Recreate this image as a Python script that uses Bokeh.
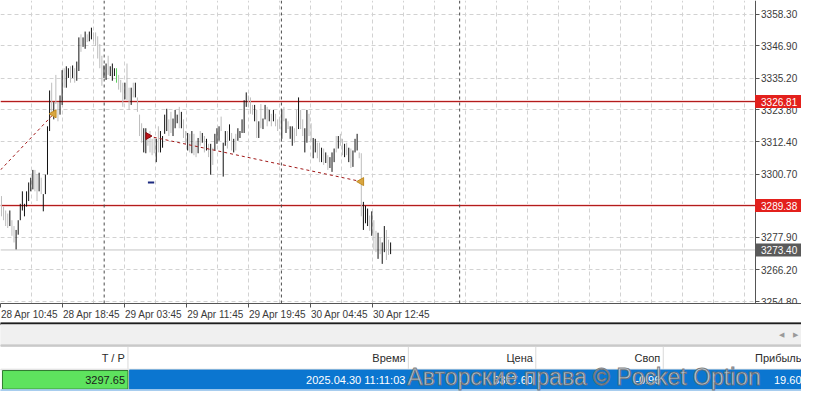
import numpy as np
from bokeh.plotting import figure
from bokeh.models import (Range1d, FixedTicker, PrintfTickFormatter, Span,
                          ColumnDataSource, LinearAxis)
from bokeh.layouts import column
from bokeh.embed import file_html
from bokeh.resources import INLINE
from bokeh.core.properties import value

# ---------------- data (XAUUSD-like M15 bars) ----------------
high_a = [3292.8, 3289.0, 3287.6, 3286.5, 3287.6, 3284.1, 3282.0, 3280.6, 3284.1, 3290.0,
          3294.5, 3290.0, 3294.5, 3297.7, 3299.4, 3302.2, 3302.2, 3300.5, 3301.2, 3299.4,
          3293.5, 3300.5, 3317.9, 3330.8, 3333.6, 3326.6, 3336.4, 3326.6, 3329.0, 3338.1,
          3338.8, 3339.5, 3338.8, 3339.5, 3339.8, 3338.8, 3341.2, 3349.9, 3351.0, 3349.9,
          3352.0, 3351.0, 3352.0, 3353.4, 3351.7, 3351.7, 3350.3]
low_a = [3285.5, 3284.1, 3282.0, 3281.3, 3282.0, 3278.5, 3276.1, 3273.6, 3278.9, 3284.1,
         3287.6, 3285.5, 3289.0, 3291.0, 3294.5, 3295.2, 3294.5, 3291.0, 3294.5, 3293.5,
         3287.3, 3293.5, 3300.5, 3316.2, 3322.4, 3320.4, 3325.9, 3319.7, 3322.1, 3325.6,
         3331.8, 3331.8, 3335.3, 3333.6, 3335.3, 3333.6, 3334.3, 3337.8, 3344.7, 3346.5,
         3345.8, 3348.2, 3348.5, 3349.2, 3348.5, 3346.8, 3342.3]
kind_a = "gggg" "b" "gg" "bbbbbbbbb" "gg" "b" "g" "bbbb" "g" "b" "gg" "bb" "g" "bb" "g" "b" "g" "bb" "g" "bb" "g" "bb" "ggg"

high_b = [3347.5, 3343.3, 3339.8, 3340.5, 3343.3, 3339.5, 3340.5, 3338.8, 3338.8, 3336.4,
          3334.6, 3333.6, 3333.6, 3340.5, 3331.8, 3331.8, 3333.6, 3333.6, 3328.3, 3322.1,
          3319.0, 3317.2, 3317.2, 3315.2, 3316.2, 3313.4, 3313.7, 3313.4, 3317.9, 3316.2,
          3314.4, 3322.1, 3324.2, 3320.4, 3323.1, 3320.7, 3323.8, 3322.1, 3324.9, 3323.1,
          3320.4, 3316.2, 3315.5, 3315.2, 3316.2, 3315.2]
low_b = [3338.8, 3332.5, 3335.3, 3334.6, 3336.4, 3336.0, 3334.3, 3336.0, 3333.6, 3331.1,
         3330.1, 3324.9, 3327.6, 3327.3, 3323.8, 3325.6, 3328.3, 3328.3, 3323.1, 3314.4,
         3312.0, 3308.5, 3308.2, 3310.9, 3308.5, 3307.5, 3308.2, 3305.0, 3308.5, 3308.5,
         3310.2, 3315.2, 3316.2, 3314.4, 3315.5, 3314.4, 3317.2, 3319.0, 3317.2, 3317.2,
         3313.7, 3311.6, 3309.2, 3308.5, 3308.2, 3307.5]
kind_b = "gg" "bb" "g" "bbb" "L" "ggg" "b" "gg" "b" "g" "b" "ggg" "bb" "gggg" "b" "g" "bbbb" "gg" "bbb" "g" "b" "gg" "b" "g" "b" "g"

high_c = [3312.7, 3313.7, 3316.2, 3315.5, 3314.4, 3313.4, 3311.6, 3311.6, 3310.2, 3315.2,
          3317.2, 3317.9, 3321.4, 3312.0, 3316.2, 3316.2, 3318.6, 3315.5, 3313.4, 3315.2,
          3317.2, 3316.2, 3320.4, 3327.3, 3330.1, 3329.0, 3328.3, 3325.6, 3325.6, 3323.8,
          3319.7, 3325.9, 3320.7, 3325.6, 3324.9, 3323.8, 3322.4, 3323.8, 3322.4, 3320.4,
          3321.4, 3323.8, 3324.9, 3320.7, 3319.7, 3317.9, 3317.9, 3317.2, 3323.8, 3328.3,
          3323.8, 3320.4, 3317.2, 3323.8, 3322.4, 3319.0, 3313.7, 3313.4, 3312.0, 3312.0,
          3310.2, 3309.9, 3308.5, 3307.5, 3306.8, 3308.5, 3309.9, 3314.4, 3314.4, 3315.2,
          3313.4, 3311.6, 3312.0, 3310.2, 3309.9, 3309.2, 3313.4, 3315.2, 3308.5, 3308.2,
          3290.7, 3289.3, 3288.3, 3285.8, 3287.3, 3284.1, 3280.3, 3279.6, 3277.8, 3276.1,
          3282.0, 3280.6, 3277.1, 3276.1]
low_c = [3306.8, 3308.2, 3310.9, 3312.0, 3308.5, 3309.2, 3306.8, 3300.5, 3304.0, 3309.2,
         3311.6, 3312.7, 3316.2, 3299.8, 3310.9, 3309.9, 3312.7, 3309.2, 3308.5, 3309.2,
         3312.7, 3313.7, 3315.5, 3315.5, 3324.9, 3324.9, 3322.4, 3322.1, 3319.7, 3313.7,
         3313.7, 3317.2, 3316.9, 3320.4, 3317.9, 3319.7, 3317.9, 3319.7, 3317.9, 3316.2,
         3316.9, 3313.4, 3319.7, 3315.5, 3316.9, 3313.4, 3310.9, 3312.0, 3314.4, 3316.9,
         3316.9, 3314.4, 3308.5, 3312.0, 3314.4, 3312.7, 3306.4, 3308.5, 3306.4, 3305.0,
         3305.0, 3304.0, 3304.7, 3302.2, 3302.9, 3301.5, 3305.0, 3308.5, 3309.9, 3310.9,
         3307.5, 3306.8, 3307.5, 3305.0, 3302.9, 3303.3, 3308.5, 3309.2, 3306.4, 3285.5,
         3280.6, 3283.0, 3282.0, 3280.3, 3278.5, 3273.6, 3272.6, 3270.2, 3271.9, 3268.4,
         3272.6, 3269.8, 3271.6, 3271.9]
kind_c = ("gbgbgbgbg" "bbb" "g" "bb" "g" "b" "g" "b" "g" "bbbbb" "ggg" "b" "g" "b" "g" "bb"
          "g" "b" "g" "b" "ggg" "b" "g" "b" "g" "bb" "gg" "b" "gg" "bb" "gg" "bb" "gg" "b" "g"
          "b" "g" "bbb" "g" "b" "gg" "b" "g" "b" "g" "bbb" "gg" "bbb" "g" "b" "gg" "b" "g" "bb"
          "gg" "b")

bar_high = high_a + high_b + high_c
bar_low = low_a + low_b + low_c
bar_kind = list(kind_a + kind_b + kind_c)

time_labels = ["28 Apr 10:45", "28 Apr 18:45", "29 Apr 03:45", "29 Apr 11:45",
               "29 Apr 19:45", "30 Apr 04:45", "30 Apr 12:45"]
time_label_bar = [-0.46, 29.17, 58.8, 88.43, 118.06, 147.69, 177.32]
day_separator_bar = [49.1, 133.8, 219.0]
price_ticks = [3254.80, 3266.20, 3277.90, 3289.30, 3300.70, 3312.40, 3323.80,
               3335.20, 3346.90, 3358.30]
level_prices = [3326.81, 3289.38]
last_price = 3273.40
trade1_bar, trade1_price = [-0.46, 25.0], [3302.2, 3322.4]
trade2_bar, trade2_price = [70.0, 172.0], [3314.4, 3298.0]
tp_price, tp_bars = 3297.65, [70.0, 73.0]
chart_x = (-0.46, 360.2)          # visible bar span of the chart area
view_x_end = 382.4                # chart area + price scale strip
view_y = (3254.13, 3363.18)

table_headers = ["T / P", "Время", "Цена", "Своп", "Прибыль"]
table_row = ["3297.65", "2025.04.30 11:11:03", "3317.60", "-0.96", "19.60"]
watermark = "Авторские права © Pocket Option"

# ---------------- chart ----------------
FONT = "Liberation Sans"
n = min(len(bar_high), len(bar_low), len(bar_kind))
color_map = {"b": "#111111", "g": "#bdbdbd", "L": "#5ccf5c"}
src = ColumnDataSource(dict(x=list(range(n)), hi=bar_high[:n], lo=bar_low[:n],
                            c=[color_map[k] for k in bar_kind[:n]]))

p = figure(width=801, height=322, x_range=Range1d(chart_x[0], view_x_end),
           y_range=Range1d(*view_y),
           output_backend="svg", toolbar_location=None, y_axis_location=None,
           x_axis_location=None,
           min_border_left=0, min_border_top=0, min_border_bottom=0, min_border_right=0,
           background_fill_color="white", border_fill_color="white", outline_line_color=None)

# grids
grid_step = (time_label_bar[1] - time_label_bar[0]) / 2.0
p.ygrid.ticker = FixedTicker(ticks=price_ticks)
p.xgrid.ticker = FixedTicker(ticks=list(np.arange(time_label_bar[0], chart_x[1], grid_step)))
for g in (p.xgrid, p.ygrid):
    g.grid_line_color = "#d2d2d2"
    g.grid_line_dash = "4 3"
    g.grid_line_width = 1

# price-scale strip background (covers the grid on the right)
p.quad(left=[chart_x[1]], right=[view_x_end], bottom=[view_y[0]], top=[view_y[1]],
       fill_color="white", line_color=None)

for d in day_separator_bar:
    p.add_layout(Span(location=d, dimension="height", line_color="#4a4a4a",
                      line_dash="3 3", line_width=1))

# bottom time axis: labels start at their time (MT style) -> label centred half a label to the right,
# time marks drawn as minor ticks
label_shift = 13.9
label_pos = [b + label_shift for b in time_label_bar]
x_axis = LinearAxis(ticker=FixedTicker(ticks=label_pos, minor_ticks=time_label_bar),
                    major_label_overrides={t: l for t, l in zip(label_pos, time_labels)},
                    axis_line_color="#555555", major_tick_line_color=None,
                    minor_tick_line_color="#555555", minor_tick_out=4, minor_tick_in=0,
                    major_tick_out=4, major_label_standoff=1,
                    major_label_text_font=FONT, major_label_text_font_size="10px",
                    major_label_text_color="#3a3a3a")
p.add_layout(x_axis, "below")

# right price axis, drawn at the edge of the chart area
y_axis = LinearAxis(fixed_location=chart_x[1], ticker=FixedTicker(ticks=price_ticks),
                    formatter=PrintfTickFormatter(format="%.2f"),
                    axis_line_color="#555555", major_tick_line_color="#555555",
                    minor_tick_line_color=None, major_tick_out=4, major_tick_in=0,
                    major_label_standoff=2, major_label_text_font=FONT,
                    major_label_text_font_size="10px", major_label_text_color="#3a3a3a")
p.add_layout(y_axis, "right")

# level lines
for lp in level_prices:
    p.segment(x0=[chart_x[0]], y0=[lp], x1=[chart_x[1]], y1=[lp], line_color="#f8dada", line_width=3)
    p.segment(x0=[chart_x[0]], y0=[lp], x1=[chart_x[1]], y1=[lp], line_color="#b01212", line_width=1)
p.segment(x0=[chart_x[0]], y0=[last_price], x1=[chart_x[1]], y1=[last_price],
          line_color="#c4c4c4", line_width=1)

# bars
p.segment(x0="x", y0="lo", x1="x", y1="hi", line_color="c", line_width=1, source=src)

# trades
p.line(trade1_bar, trade1_price, line_color="#a01818", line_dash="3 3", line_width=1)
p.line(trade2_bar, trade2_price, line_color="#a01818", line_dash="3 3", line_width=1)
p.scatter([trade1_bar[1], trade2_bar[1]], [trade1_price[1], trade2_price[1]],
          marker="triangle", angle=np.pi / 2, size=8, fill_color="#d9a640",
          line_color="#c08a20")
p.scatter([trade2_bar[0]], [trade2_price[0]], marker="triangle", angle=-np.pi / 2,
          size=7, fill_color="#c0141a", line_color="#8a0c10")
p.segment(x0=[tp_bars[0]], y0=[tp_price], x1=[tp_bars[1]], y1=[tp_price],
          line_color="#1c2a80", line_width=2)

# price tags on the scale
tag_prices = level_prices + [last_price]
tag_colors = ["#e3201c", "#e3201c", "#5a5a5a"]
p.rect(x=[(chart_x[1] + view_x_end) / 2.0] * 3, y=tag_prices,
       width=view_x_end - chart_x[1], height=13, height_units="screen",
       fill_color=tag_colors, line_color=None, level="overlay")
p.text(x=[chart_x[1]] * 3, y=tag_prices, text=["%.2f" % v for v in tag_prices],
       x_offset=6, text_font=value(FONT), text_font_size="10px", text_color="white",
       text_baseline="middle", text_align="left", level="overlay")

# ---------------- table panel ----------------
t = figure(width=801, height=69, x_range=Range1d(0, 817), y_range=Range1d(407, 333),
           output_backend="svg", toolbar_location=None, min_border=0,
           background_fill_color="white", border_fill_color="white", outline_line_color=None)
t.axis.visible = False
t.grid.visible = False

col_right = [130, 416, 546, 676, 820]

t.quad(left=[0], right=[817], top=[333], bottom=[335.5], color="#1e1e1e")
t.quad(left=[0], right=[817], top=[335.5], bottom=[357], color="#f0f0f0")
t.quad(left=[0], right=[817], top=[357], bottom=[358.5], color="#c9c9c9")
t.text(x=[797, 811], y=[346, 346], text=["◀", "▶"], text_font_size="7px",
       text_color="#9a9a9a", text_align="center", text_baseline="middle")
t.segment(x0=col_right[:4], y0=[359] * 4, x1=col_right[:4], y1=[383] * 4,
          line_color="#d9d9d9", line_width=1)
t.quad(left=[0], right=[817], top=[383], bottom=[384], color="#e4e4e4")
t.text(x=[r - 3 for r in col_right], y=[371] * 5, text=table_headers,
       text_font=value(FONT), text_font_size="11px", text_color="#2b2b2b",
       text_align="right", text_baseline="middle")
t.quad(left=[131.5], right=[817], top=[384], bottom=[405], color="#0b76d0")
t.quad(left=[2], right=[130], top=[384.5], bottom=[404.5], fill_color="#5ee35e",
       line_color="#2f7a2f", line_width=1)
t.quad(left=[0], right=[817], top=[405], bottom=[407], color="#a8cdee")
t.text(x=[col_right[0] - 3], y=[395], text=[table_row[0]], text_font=value(FONT),
       text_font_size="11px", text_color="#1a1a1a", text_align="right", text_baseline="middle")
t.text(x=[r - 3 for r in col_right[1:]], y=[395] * 4, text=table_row[1:],
       text_font=value(FONT), text_font_size="11px", text_color="white",
       text_align="right", text_baseline="middle")
t.text(x=[415], y=[391], text=[watermark], text_font=value(FONT), text_font_size="23px",
       text_color="#d6dde6", text_alpha=0.85, text_outline_color="#6a6a6a",
       text_align="left", text_baseline="middle")

layout = column(p, t, spacing=0)
open("out.html", "w").write(file_html(layout, INLINE))
